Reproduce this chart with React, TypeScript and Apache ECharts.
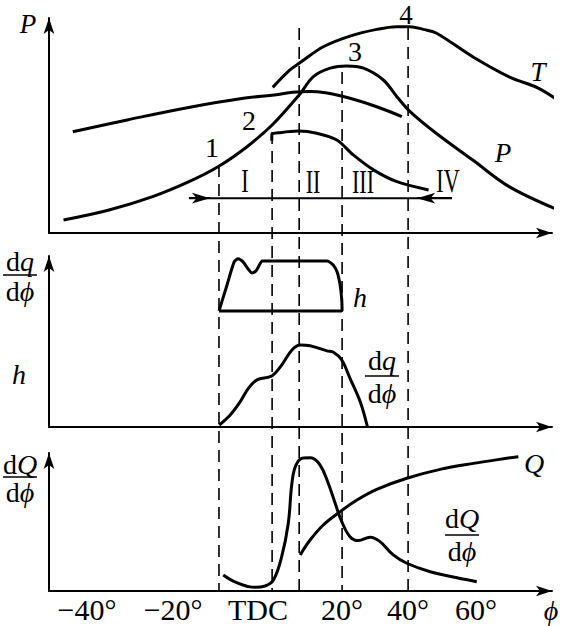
import React, { useEffect, useRef } from 'react';
import * as echarts from 'echarts';

// Crank angle axis (degrees)
const X_MIN = -68.8;
const X_MAX = 83.6;

// Bottom-axis tick labels (schematic placement, as in the figure)
const tickLabels = ['−40°', '−20°', 'TDC', '20°', '40°', '60°'];
const tickPositions = [-57.3, -31.2, -5.5, 20, 40, 60.6];

// Top panel: pressure P
const pressureCurve = [
  [-64.4, 5.8], [-50.6, 10.3], [-37.4, 16.3], [-26.4, 23], [-17.6, 29.7], [-8.8, 38.7],
  [-1.2, 48.4], [7, 61.9], [11.3, 70.1], [16.4, 73.9], [21.4, 74.9], [26.5, 73.9],
  [32.5, 68.6], [36.6, 61.1], [40.6, 54.4], [48.5, 44.7], [59.6, 32.7], [70.6, 20.8], [85.5, 10.3],
];
// Top panel: temperature T
const temperatureCurve = [
  [-1, 65.3], [4.2, 73.1], [7.3, 76.4], [14.3, 83.5], [22.4, 88.3], [30.5, 91.3], [36.6, 92.5],
  [40.6, 92.5], [44.6, 91.3], [48.5, 89.7], [59.7, 78.9], [70.6, 70], [79.4, 65], [84.8, 60.1],
];
// Top panel: long flat curve
const flatCurve = [
  [-61.6, 45.4], [-45.1, 50.7], [-26.1, 56.4], [-9.9, 60.4], [0.1, 62], [5, 63.1],
  [10, 63.5], [15, 62.9], [22.4, 60.4], [30.5, 56.6], [38.1, 52.2],
];
// Top panel: lower arch curve
const archCurve = [
  [-1.3, 41.4], [-1.3, 44.2], [1.2, 45], [6.8, 45.7], [12.3, 44.7], [18.4, 41.7], [23.4, 35],
  [29.5, 28.3], [36.6, 23], [46.2, 19.3],
];
// Top panel: phase range line with arrows
const phaseLineY = 15.6;
const phaseLineX = [-26.4, 53.3];
const phaseArrowTips = [-17.3, 40];

// Middle panel: needle lift h
const liftCurve = [
  [-17.3, 64.8], [-15, 78.5], [-12.7, 92.2], [-11.5, 93.9], [-10, 92.2], [-8.5, 88.3],
  [-7.3, 86.0], [-6.1, 87.2], [-5.2, 89.9], [-4.2, 92.7], [5, 92.7], [15.5, 92.7],
  [17.3, 90.5], [18.5, 86.6], [19.4, 79.3], [19.9, 71], [20, 64.8],
];
const liftBase = [[-17.3, 64.8], [20, 64.8]];
// Middle panel: injection rate dq/dphi
const injectionCurve = [
  [-17.2, 1.1], [-13.9, 6.7], [-10.9, 14], [-8.4, 21.6], [-5.8, 26.3], [-1.3, 28.5],
  [1.7, 34.6], [4.8, 43], [7.3, 45.8], [10.3, 45.4], [15.4, 42.5], [17.4, 41.7],
  [19.9, 37.4], [22.4, 27.2], [25.5, 14.1], [27.7, 0],
];

// Bottom panel: heat release rate dQ/dphi
const heatRateCurve = [
  [-16, 11], [-11.9, 5.7], [-6.4, 2.5], [-3.3, 3.4], [-0.8, 7.5], [1.7, 23.5], [3.7, 46.4],
  [4.8, 73.8], [6, 86], [8.2, 91], [10.5, 91.2], [13.3, 86.3], [15.8, 73.8],
  [17.9, 60.1], [19.9, 47.5], [22.4, 37.2], [24.9, 34.5], [28.5, 36.8], [31.5, 33.8],
  [35.5, 24.7], [39.6, 19], [46.7, 13.2], [54.8, 9.1], [60.8, 6.4],
];
// Bottom panel: cumulative heat release Q
const heatCumCurve = [
  [7.3, 24.7], [10.3, 34.9], [14.3, 45.2], [19.4, 54.3], [24.5, 62.3], [30.5, 69.6],
  [39.6, 77.2], [49.7, 83.3], [59.8, 87.4], [69.9, 90.9], [73.4, 92],
];

// Vertical dashed guide lines (x in degrees, top in overlay units)
const dashedX = [-17.3, -1.2, 7, 20, 40];
const dashedTop = [426, 459, 563, 519, 563];

const FONT = 'Liberation Serif';

function txt(text: string, x: number, y: number, size: number, italic = false, extra: any = {}) {
  return {
    type: 'text',
    x,
    y,
    silent: true,
    ...extra,
    style: {
      text,
      fontFamily: FONT,
      fontSize: size,
      fontStyle: italic ? 'italic' : 'normal',
      fill: '#000',
      align: 'center',
      verticalAlign: 'middle',
    },
  };
}

function fraction(top: string, cx: number, yTop: number, yLine: number, yBot: number, w: number) {
  const rich = {
    u: { fontFamily: FONT, fontSize: 28, fontStyle: 'normal', fill: '#000' },
    i: { fontFamily: FONT, fontSize: 28, fontStyle: 'italic', fill: '#000' },
  };
  return [
    {
      type: 'text', x: cx, y: yTop, silent: true,
      style: { text: `{u|d}{i|${top}}`, rich, align: 'center', verticalAlign: 'middle' },
    },
    {
      type: 'line', silent: true,
      shape: { x1: cx - w / 2, y1: yLine, x2: cx + w / 2, y2: yLine },
      style: { stroke: '#000', lineWidth: 1.5 },
    },
    {
      type: 'text', x: cx, y: yBot, silent: true,
      style: { text: '{u|d}{i|ϕ}', rich, align: 'center', verticalAlign: 'middle' },
    },
  ];
}

export default function App() {
  const ref = useRef<HTMLDivElement>(null);

  useEffect(() => {
    if (!ref.current) return;
    const chart = echarts.init(ref.current, undefined, { renderer: 'svg' });

    const grids = [
      { left: 49, right: 18, top: 18, bottom: 393 },
      { left: 49, right: 18, top: 256, bottom: 199 },
      { left: 49, right: 18, top: 453, bottom: 35 },
      { left: 49, right: 18, top: 0, bottom: 35 },
    ];
    const yMax = [96.4, 95.5, 94.5, 591];

    const axisLine = {
      show: true,
      onZero: false,
      lineStyle: { color: '#000', width: 2 },
      symbol: ['none', 'arrow'],
      symbolSize: [8, 16],
    };

    const xAxis = grids.map((_, i) => ({
      gridIndex: i,
      type: 'value',
      min: X_MIN,
      max: X_MAX,
      show: i < 3,
      axisLine,
      axisTick: { show: false },
      splitLine: { show: false },
      axisLabel:
        i === 2
          ? {
              show: true,
              customValues: tickPositions,
              formatter: (v: number) => {
                const k = tickPositions.findIndex((p) => Math.abs(p - v) < 1e-6);
                return k >= 0 ? tickLabels[k] : '';
              },
              fontFamily: FONT,
              fontSize: 30,
              color: '#000',
              margin: 3,
            }
          : { show: false },
    }));

    const yAxis = grids.map((_, i) => ({
      gridIndex: i,
      type: 'value',
      min: 0,
      max: yMax[i],
      show: i < 3,
      axisLine,
      axisTick: { show: false },
      splitLine: { show: false },
      axisLabel: { show: false },
    }));

    const curve = (data: number[][], g: number, smooth: number | boolean = 0.35, width = 3) => ({
      type: 'line',
      xAxisIndex: g,
      yAxisIndex: g,
      data,
      symbol: 'none',
      showSymbol: false,
      smooth,
      silent: true,
      clip: false,
      lineStyle: { color: '#000', width },
    });

    const arrowBack = 9 / 3.3; // arrow symbol is centred on the end point

    const series: any[] = [
      curve(pressureCurve, 0),
      curve(temperatureCurve, 0),
      curve(flatCurve, 0, 0.4),
      curve(archCurve, 0, 0.3),
      {
        ...curve(
          [
            [phaseLineX[0], phaseLineY],
            [phaseLineX[1], phaseLineY],
          ],
          0,
          false,
          2,
        ),
        markLine: {
          silent: true,
          symbol: ['none', 'arrow'],
          symbolSize: [8, 18],
          label: { show: false },
          lineStyle: { color: '#000', width: 2, type: 'solid' },
          data: [
            [{ coord: [phaseLineX[0], phaseLineY] }, { coord: [phaseArrowTips[0] - arrowBack, phaseLineY] }],
            [{ coord: [phaseLineX[1], phaseLineY] }, { coord: [phaseArrowTips[1] + arrowBack, phaseLineY] }],
          ],
        },
      },
      curve(liftCurve, 1, 0.2),
      curve(liftBase, 1, false),
      curve(injectionCurve, 1, 0.35),
      curve(heatRateCurve, 2, 0.4),
      curve(heatCumCurve, 2, 0.35),
      ...dashedX.map((x, k) => ({
        type: 'line',
        xAxisIndex: 3,
        yAxisIndex: 3,
        data: [
          [x, dashedTop[k]],
          [x, 0],
        ],
        symbol: 'none',
        silent: true,
        clip: false,
        lineStyle: { color: '#000', width: 1.6, type: [12, 7] },
      })),
    ];

    const graphic: any[] = [
      txt('P', 28, 24, 27, true),
      txt('T', 538, 72, 27, true),
      txt('P', 503, 153, 27, true),
      txt('1', 212, 147, 28),
      txt('2', 249, 120, 28),
      txt('3', 355, 51, 28),
      txt('4', 406, 15, 27),
      txt('I', 245, 180, 34, false, { scaleX: 0.65 }),
      txt('II', 313, 181, 34, false, { scaleX: 0.65 }),
      txt('III', 363, 181, 34, false, { scaleX: 0.65 }),
      txt('IV', 448, 180, 34, false, { scaleX: 0.65 }),
      ...fraction('q', 20, 261, 275, 291, 34),
      txt('h', 19, 374, 28, true),
      txt('h', 360, 297, 28, true),
      ...fraction('q', 382, 360, 376, 393, 34),
      ...fraction('Q', 20, 464, 477, 492, 34),
      txt('Q', 534, 463, 28, true),
      ...fraction('Q', 462, 518, 535, 551, 34),
      txt('ϕ', 551, 610, 28, true),
    ];

    chart.setOption({
      animation: false,
      backgroundColor: '#fff',
      grid: grids,
      xAxis,
      yAxis,
      series,
      graphic,
    });

    return () => chart.dispose();
  }, []);

  return (
    <div
      ref={ref}
      style={{ position: 'absolute', left: 0, top: 0, width: 570, height: 626, background: '#fff' }}
    />
  );
}
